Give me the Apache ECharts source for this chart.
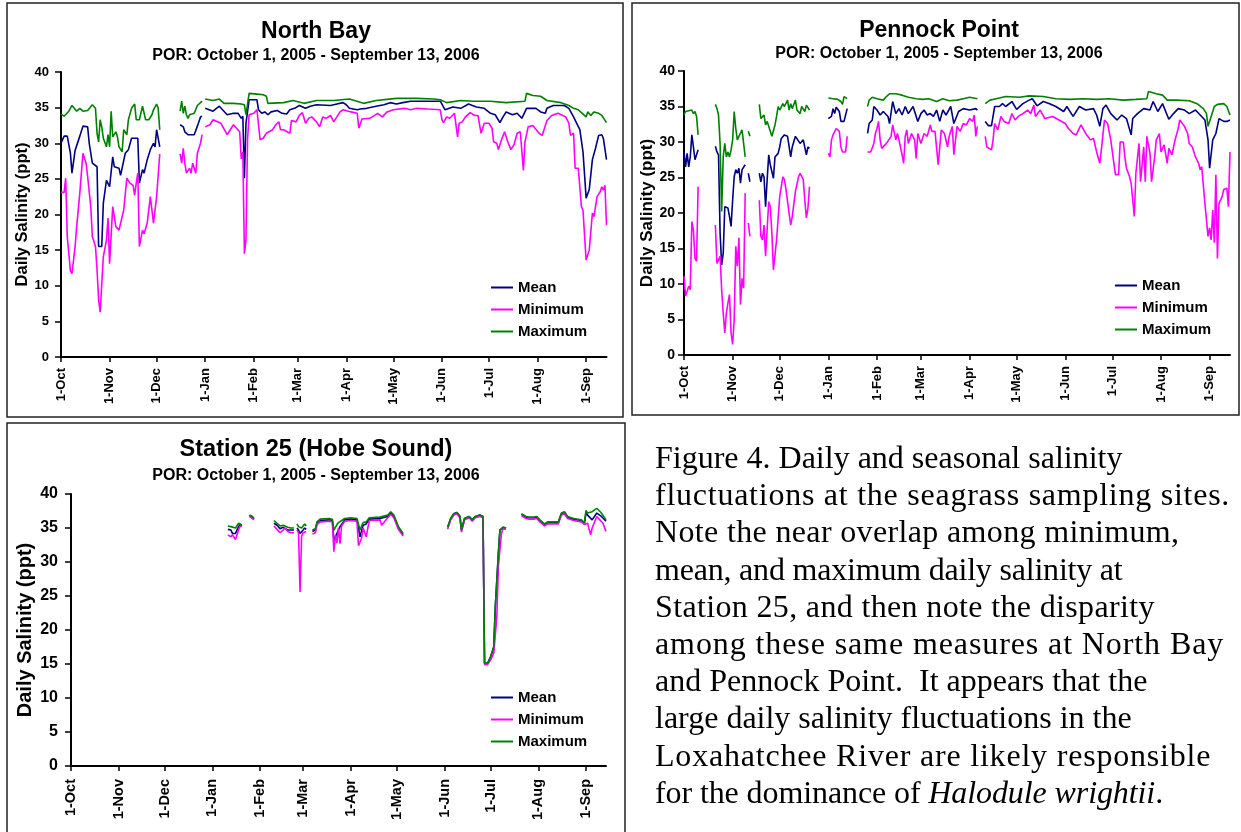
<!DOCTYPE html>
<html>
<head>
<meta charset="utf-8">
<script src="https://cdn.jsdelivr.net/npm/echarts@6/dist/echarts.min.js"></script>
<style>
html,body{margin:0;padding:0;background:#fff;}
#chart{position:absolute;left:0;top:0;width:1241px;height:832px;}
#caption{position:absolute;left:655px;top:439px;font-family:"Liberation Serif","Times New Roman",serif;font-size:32px;line-height:37.2px;color:#000;white-space:nowrap;z-index:2;}
#caption div{height:37.2px;}
</style>
</head>
<body>
<div id="chart"></div>
<div id="caption">
<div>Figure 4. Daily and seasonal salinity</div>
<div style="letter-spacing:0.75px">fluctuations at the seagrass sampling sites.</div>
<div style="letter-spacing:0.35px">Note the near overlap among minimum,</div>
<div style="letter-spacing:-0.2px">mean, and maximum daily salinity at</div>
<div style="letter-spacing:0.35px">Station 25, and then note the disparity</div>
<div style="letter-spacing:0.9px">among these same measures at North Bay</div>
<div>and Pennock Point.&nbsp; It appears that the</div>
<div>large daily salinity fluctuations in the</div>
<div style="letter-spacing:0.8px">Loxahatchee River are likely responsible</div>
<div style="letter-spacing:-0.1px">for the dominance of <i>Halodule wrightii</i>.</div>
</div>
<script>
// x values: days since 1-Oct-2005; null = gap in record
const monthTicks = [0,31,61,92,123,151,182,212,243,273,304,335];
const monthLabels = ['1-Oct','1-Nov','1-Dec','1-Jan','1-Feb','1-Mar','1-Apr','1-May','1-Jun','1-Jul','1-Aug','1-Sep'];
const seriesNames = ['Mean','Minimum','Maximum'];
const panelTitles = ['North Bay','Pennock Point','Station 25 (Hobe Sound)'];
const panelSubtitle = 'POR: October 1, 2005 - September 13, 2006';

const nbMean = [[0,30.0],[2,31.0],[4,31.0],[6,28.6],[7,25.8],[9,29.0],[10,29.2],[12,31.0],[14,32.4],[17,32.3],[18,30.0],[20,27.2],[23,26.7],[24,15.5],[26,15.5],[27,21.6],[29,24.8],[30,24.8],[31,23.9],[33,28.1],[34,26.7],[37,26.5],[38,25.5],[39,25.5],[41,28.6],[43,29.1],[45,30.7],[49,30.7],[50,24.4],[52,26.3],[53,25.8],[55,27.7],[57,29.1],[59,30.0],[60,29.5],[61,31.9],[63,29.5],null,
[76,32.6],[78,32.3],[79,31.6],[81,31.2],[85,31.2],[87,32.4],[89,33.7],[90,33.8],null,
[92,34.9],[97,34.5],[101,35.2],[106,34.0],[110,34.2],[113,34.2],[115,33.5],[116,33.8],[117,25.1],[118,32.8],[120,36.1],[125,36.1],[126,34.7],[128,34.2],[130,34.4],[132,34.0],[134,34.4],[138,34.6],[141,34.2],[144,34.1],[146,34.7],[149,34.9],[152,35.3],[156,34.9],[159,35.2],[163,35.4],[172,35.3],[176,35.5],[180,35.7],[182,35.4],[184,34.9],[189,34.7],[191,34.8],[195,34.9],[201,35.2],[206,35.4],[210,35.7],[214,35.5],[218,35.7],[223,35.9],[231,35.9],[242,35.9],[245,34.7],[250,35.1],[255,34.9],[260,35.5],[265,35.1],[270,34.9],[274,34.2],[277,34.0],[280,32.9],[282,33.7],[284,34.4],[288,34.0],[291,34.2],[294,33.5],[297,34.9],[303,34.9],[306,34.4],[309,34.2],[310,34.9],[314,35.3],[321,35.3],[324,34.9],[327,33.7],[329,32.8],[331,31.9],[333,28.8],[334,25.6],[335,22.3],[337,23.5],[339,27.7],[341,29.3],[343,31.1],[345,31.2],[346,30.7],[348,27.7]];
const nbMin = [[0,23.1],[2,23.1],[3,25.1],[4,16.9],[5,17.1],[6,12.1],[7,11.7],[9,15.5],[10,18.3],[12,23.0],[14,28.6],[16,27.2],[17,25.3],[19,21.1],[20,16.9],[22,15.5],[23,12.2],[24,8.0],[25,6.3],[27,14.1],[29,16.4],[30,19.5],[31,13.1],[32,13.1],[33,21.1],[35,18.3],[37,17.8],[39,19.7],[40,20.6],[42,25.1],[44,24.4],[46,24.1],[47,22.7],[48,24.4],[49,25.8],[50,15.5],[52,17.8],[53,17.3],[55,18.8],[57,22.5],[58,22.3],[59,18.8],[61,22.5],[63,28.5],null,
[76,28.5],[77,27.2],[78,29.3],[79,27.2],[80,25.8],[82,26.5],[83,25.8],[84,27.2],[86,25.8],[87,28.6],[89,30.0],[90,31.2],null,
[92,32.3],[95,32.6],[97,33.3],[102,32.8],[106,31.2],[110,32.6],[112,32.1],[114,31.6],[115,27.8],[116,28.8],[117,14.5],[118,16.4],[119,30.5],[120,34.0],[123,34.2],[125,34.7],[127,30.5],[129,30.7],[131,31.4],[135,31.9],[137,32.6],[139,33.0],[140,31.9],[142,31.9],[146,31.4],[147,33.2],[150,33.0],[152,33.9],[154,34.3],[156,32.8],[158,33.5],[160,33.7],[163,33.0],[165,32.3],[167,33.7],[169,33.5],[172,33.9],[174,33.0],[176,33.7],[178,34.4],[180,34.7],[185,34.4],[189,34.2],[190,32.1],[192,33.4],[197,33.5],[202,34.2],[205,33.7],[208,34.4],[212,34.7],[219,34.9],[223,34.7],[227,34.9],[234,34.8],[242,34.7],[243,33.3],[244,32.9],[246,33.7],[248,33.5],[251,34.2],[253,30.9],[254,32.8],[256,33.0],[258,33.7],[261,34.3],[264,33.9],[266,33.9],[268,31.4],[270,32.8],[273,32.8],[275,32.1],[276,30.2],[278,30.0],[279,29.1],[281,30.5],[283,31.6],[285,30.2],[287,29.1],[289,29.8],[291,31.4],[293,31.6],[295,26.2],[296,30.2],[298,32.3],[301,32.5],[305,31.4],[307,31.1],[310,33.2],[313,33.9],[317,34.2],[322,33.7],[324,32.8],[325,31.1],[327,31.4],[328,26.5],[330,26.5],[332,21.1],[333,20.6],[335,13.6],[337,15.0],[339,20.2],[340,19.7],[342,22.5],[344,23.2],[345,23.9],[346,23.4],[347,24.1],[348,18.5]];
const nbMax = [[0,34.1],[2,33.8],[5,34.5],[7,35.3],[8,35.1],[10,34.5],[12,34.9],[14,34.5],[17,34.6],[20,35.4],[22,34.9],[23,31.4],[24,30.2],[25,33.3],[26,32.3],[27,30.7],[29,29.5],[30,31.2],[31,29.5],[32,34.5],[33,30.9],[35,31.6],[36,30.9],[37,29.5],[39,28.8],[40,31.9],[42,31.2],[43,33.3],[45,34.9],[47,35.5],[48,33.3],[50,33.3],[52,35.2],[53,35.3],[54,33.3],[56,33.3],[58,34.0],[59,34.7],[61,35.5],[62,34.9],[63,31.9],null,
[76,34.5],[77,35.9],[78,34.2],[79,35.2],[80,34.0],[81,33.5],[82,34.0],[85,34.2],[87,35.3],[90,35.9],null,
[92,36.2],[97,36.0],[101,36.2],[104,35.6],[110,35.6],[115,35.5],[117,35.4],[118,34.0],[120,37.0],[125,36.9],[129,36.8],[131,36.6],[132,35.6],[142,35.7],[148,36.0],[155,35.6],[163,36.0],[174,36.0],[184,36.2],[193,35.6],[201,36.0],[214,36.3],[227,36.3],[238,36.2],[242,36.1],[246,35.7],[255,36.0],[263,35.9],[274,35.9],[284,35.7],[296,35.9],[297,37.0],[301,36.7],[306,36.6],[310,36.0],[319,35.7],[324,35.3],[327,34.9],[330,34.7],[332,34.3],[335,33.7],[336,34.4],[338,33.9],[340,34.4],[343,34.2],[345,33.9],[348,32.9]];

const ppMean = [[0,28.6],[1,26.5],[2,28.4],[3,26.5],[4,27.9],[5,31.0],[6,29.3],[7,27.5],[8,27.7],[9,28.9],null,
[20,29.4],[21,28.6],[22,28.2],[23,17.2],[24,12.7],[25,14.3],[26,20.9],[28,20.7],[29,19.5],[30,18.1],[31,21.8],[32,25.1],[33,26.1],[34,25.6],[35,26.3],[36,24.2],[37,26.1],[39,26.8],null,
[41,25.6],[42,24.4],null,
[48,25.6],[49,24.4],[50,25.6],[51,25.1],[52,20.9],[53,24.7],[54,28.2],[55,26.8],[57,24.9],[58,27.9],[60,28.4],[61,29.3],[62,30.5],[64,31.0],[66,30.8],[68,27.9],[69,29.3],[71,30.8],[72,30.8],[74,29.8],[76,30.3],[78,28.2],[79,29.3],[80,29.1],null,
[92,33.3],[94,33.6],[95,34.7],[96,34.0],[97,34.9],[99,34.3],[100,32.9],[102,32.9],[104,34.7],null,
[117,31.2],[118,32.6],[120,33.1],[121,35.0],[123,34.5],[125,33.8],[127,34.3],[130,33.6],[131,32.6],[133,35.7],[135,34.0],[137,34.7],[139,33.8],[141,35.0],[143,34.0],[146,35.0],[148,33.6],[149,32.9],[151,34.0],[153,34.5],[155,33.8],[157,34.0],[159,33.6],[161,34.5],[163,32.9],[165,34.5],[167,33.8],[170,35.0],[172,32.6],[175,34.3],[178,34.7],[182,34.5],[186,34.7],[187,34.5],null,
[192,32.9],[194,32.3],[196,32.3],[198,35.0],[201,35.0],[203,35.4],[205,35.0],[209,35.7],[212,34.6],[216,35.4],[220,35.9],[222,36.1],[225,35.1],[229,35.7],[233,35.4],[237,35.0],[242,34.3],[244,35.0],[248,33.6],[252,35.0],[256,34.5],[261,34.7],[263,33.8],[265,32.2],[267,34.7],[269,35.2],[272,34.0],[276,33.1],[279,33.8],[282,33.3],[285,31.0],[286,33.3],[289,34.0],[293,34.7],[297,34.5],[299,35.7],[302,34.3],[305,35.4],[309,33.2],[312,34.0],[315,34.7],[319,34.5],[322,34.0],[326,34.5],[329,33.8],[332,33.1],[334,30.3],[335,26.3],[337,30.3],[339,31.2],[341,33.3],[344,32.9],[346,32.9],[348,33.1]];
const ppMin = [[0,11.1],[1,8.3],[2,8.3],[3,9.7],[4,9.2],[5,18.8],[6,17.6],[7,13.6],[8,13.2],[9,23.7],null,
[20,18.3],[21,12.9],[22,13.4],[23,13.9],[24,9.2],[25,5.9],[26,3.1],[27,5.9],[28,7.3],[29,8.5],[30,3.1],[31,1.5],[32,5.0],[33,15.3],[34,12.5],[35,16.5],[36,7.1],[37,10.8],[38,9.4],[39,22.8],null,
[41,18.6],[42,16.7],null,
[48,21.8],[49,16.7],[50,16.2],[51,18.3],[52,13.9],[53,13.9],[54,21.6],[55,20.9],[56,17.2],[57,12.0],[58,12.2],[59,16.2],[61,22.3],[63,25.1],[64,24.7],[65,23.3],[66,23.5],[68,18.3],[69,19.5],[70,19.3],[71,23.0],[73,25.1],[74,25.6],[76,24.7],[77,21.8],[78,19.3],[79,20.7],[80,23.7],null,
[92,28.4],[93,27.9],[94,30.3],[95,31.0],[97,31.9],[99,31.5],[100,29.3],[101,28.6],[103,28.6],[104,30.8],null,
[117,28.6],[119,28.6],[121,29.8],[122,31.2],[123,31.9],[124,32.9],[125,30.3],[126,29.1],[127,29.3],[129,29.8],[130,30.0],[132,30.8],[133,32.4],[135,30.3],[136,31.2],[137,30.3],[139,28.2],[140,27.0],[141,30.8],[142,31.7],[143,29.8],[145,31.2],[147,30.3],[148,27.7],[149,31.2],[151,29.8],[153,31.2],[155,30.8],[157,32.4],[158,31.5],[160,31.5],[161,31.7],[162,26.8],[164,31.7],[166,31.2],[168,29.3],[169,30.8],[171,32.2],[172,28.2],[174,32.2],[176,31.5],[178,32.6],[180,32.4],[182,33.3],[184,32.9],[185,33.8],[186,30.8],[187,32.2],null,
[192,30.8],[193,29.3],[196,28.9],[197,30.3],[198,32.6],[200,31.7],[202,33.6],[204,32.9],[207,32.6],[209,34.0],[211,33.1],[213,33.6],[216,34.0],[219,34.5],[221,34.0],[223,35.2],[224,33.6],[227,34.5],[230,33.3],[235,33.6],[239,33.1],[243,32.6],[245,31.9],[248,31.2],[250,31.0],[253,32.4],[256,31.2],[259,30.3],[261,30.5],[263,28.6],[265,27.0],[266,28.9],[268,33.1],[270,32.6],[272,30.3],[274,27.0],[275,25.4],[277,25.4],[278,30.0],[280,30.0],[281,27.9],[282,26.3],[284,25.1],[285,24.2],[287,19.5],[288,25.6],[290,29.8],[291,24.4],[293,29.3],[294,24.4],[295,30.8],[297,28.4],[298,24.4],[300,27.9],[301,30.3],[303,31.2],[304,28.6],[306,29.6],[308,27.0],[309,29.1],[311,28.2],[313,30.3],[315,31.9],[316,33.1],[319,32.2],[321,31.2],[322,29.8],[324,29.3],[326,27.9],[328,27.0],[329,26.1],[330,26.5],[331,26.3],[332,21.4],[334,16.7],[335,17.9],[336,16.2],[337,20.4],[338,15.8],[339,25.4],[340,13.6],[341,21.4],[343,22.3],[344,23.3],[346,23.5],[347,20.9],[348,28.6]];
const ppMax = [[0,33.8],[1,34.3],[3,34.4],[5,34.5],[6,34.0],[7,34.3],[8,33.6],[9,31.0],null,
[20,35.3],[21,34.7],[22,33.8],[23,29.8],[24,20.2],[25,27.9],[26,29.8],[27,27.9],[28,28.6],[29,27.9],[30,28.9],[31,30.3],[32,34.3],[33,31.9],[34,30.3],[35,30.8],[37,31.7],[39,27.9],null,
[41,31.5],[42,30.8],null,
[48,35.3],[49,33.3],[50,33.1],[51,33.8],[52,32.4],[53,32.9],[54,32.2],[56,30.8],[58,32.4],[59,33.6],[60,35.0],[61,34.5],[63,35.4],[64,35.0],[66,35.9],[67,34.5],[68,35.4],[69,34.7],[71,35.9],[72,34.5],[74,34.0],[75,35.0],[77,34.3],[78,35.2],[79,35.1],[80,34.5],null,
[92,36.2],[95,36.1],[98,36.0],[100,35.7],[101,35.3],[102,36.4],[104,36.1],null,
[117,35.0],[118,35.9],[120,36.3],[123,36.1],[127,35.9],[129,36.4],[131,36.8],[135,36.8],[139,36.6],[143,36.3],[148,36.1],[152,36.0],[156,36.1],[161,35.7],[165,36.1],[169,35.8],[174,35.9],[178,36.1],[182,36.3],[187,36.1],null,
[192,35.4],[195,35.9],[199,36.1],[205,36.4],[214,36.3],[220,36.5],[229,36.4],[237,36.1],[246,36.0],[254,36.1],[263,36.0],[271,36.1],[280,35.9],[288,36.0],[295,36.1],[296,37.1],[301,36.8],[305,36.6],[308,35.9],[314,35.9],[322,35.8],[327,35.4],[331,34.7],[333,34.0],[334,32.2],[336,33.6],[338,35.0],[340,35.3],[344,35.4],[346,35.0],[348,33.8]];

const s25Mean = [[102,34.8],[104,34.7],[105,34.2],[107,34.2],[109,35.2],[110,35.6],[111,35.3],null,
[116,36.8],[118,36.6],[119,36.3],null,
[132,35.7],[134,35.4],[136,34.9],[138,35.1],[139,35.2],[141,34.7],[143,34.7],[145,34.7],null,
[147,35.0],[148,34.7],[149,34.2],[150,34.0],[151,34.7],[152,35.0],[153,34.8],null,
[157,34.5],[159,34.7],[160,35.7],[162,36.1],[168,36.2],[170,36.1],[171,33.2],[173,34.2],[174,34.0],[175,35.2],[178,36.2],[182,36.3],[186,36.2],[188,33.7],[190,35.4],[192,35.6],[194,36.3],[201,36.4],[206,36.7],[208,37.2],[210,36.7],[213,35.0],[216,34.0],null,
[245,35.1],[247,36.4],[249,37.1],[251,37.3],[253,36.7],[254,34.7],[255,34.7],[256,36.4],[259,36.7],[261,36.2],[263,36.7],[266,36.9],[268,36.7],[269,15.1],[271,15.1],[273,16.1],[275,17.5],[276,23.4],[278,31.3],[279,34.7],[281,35.1],[283,35.0],null,
[293,37.0],[296,36.6],[298,36.5],[301,36.5],[303,36.6],[305,36.1],[308,35.5],[310,35.8],[314,35.8],[317,35.8],[319,37.1],[321,37.3],[323,36.6],[327,36.3],[332,36.1],[334,35.7],[335,37.3],[336,36.9],[339,36.2],[342,37.2],[345,36.7],[348,36.0]];
const s25Min = [[102,34.0],[104,33.7],[105,34.0],[107,33.3],[109,34.7],[110,35.3],[111,35.2],null,
[116,36.7],[118,36.4],[119,36.2],null,
[132,35.3],[134,34.8],[136,34.3],[138,34.7],[139,35.0],[141,34.5],[143,34.3],[145,34.3],null,
[147,34.7],[148,34.3],[149,25.6],[150,33.8],[151,34.3],[153,34.5],null,
[157,34.1],[159,34.3],[160,35.5],[162,35.9],[168,36.0],[170,35.9],[171,31.5],[172,34.0],[173,32.8],[174,35.0],[175,32.7],[176,35.3],[178,36.0],[182,36.1],[186,36.0],[187,32.4],[189,33.5],[190,35.0],[192,33.7],[194,36.1],[201,36.2],[202,35.4],[206,36.5],[208,37.0],[210,36.5],[213,34.8],[216,33.8],null,
[245,34.8],[247,36.2],[249,36.9],[251,37.1],[253,36.5],[254,34.4],[255,34.4],[256,36.2],[259,36.5],[261,36.0],[263,36.5],[266,36.7],[268,36.5],[269,14.9],[271,14.9],[273,15.6],[275,16.6],[277,22.0],[278,29.3],[279,31.8],[280,34.2],[281,34.9],[283,34.8],null,
[293,36.8],[296,36.4],[298,36.3],[301,36.3],[303,36.4],[305,35.9],[308,35.3],[310,35.6],[314,35.6],[317,35.6],[319,36.9],[321,37.1],[323,36.4],[327,36.1],[332,35.9],[334,35.5],[335,35.7],[336,35.7],[338,34.0],[339,35.0],[342,36.7],[344,36.2],[346,35.7],[348,34.5]];
const s25Max = [[102,35.3],[104,35.2],[105,35.0],[107,35.0],[109,35.7],[110,35.9],[111,35.4],null,
[116,36.9],[118,36.7],[119,36.4],null,
[132,36.1],[134,35.7],[136,35.3],[138,35.4],[139,35.6],[141,35.1],[143,35.0],[145,35.0],null,
[147,35.6],[148,35.2],[149,35.0],[150,35.0],[151,35.2],[152,35.6],[153,35.3],null,
[157,34.7],[159,34.9],[160,35.9],[162,36.3],[168,36.4],[170,36.3],[171,34.7],[173,35.5],[174,35.8],[175,35.7],[178,36.4],[182,36.5],[186,36.4],[188,34.7],[190,35.8],[192,35.9],[194,36.5],[201,36.6],[206,36.9],[208,37.4],[210,36.9],[213,35.2],[216,34.2],null,
[245,35.1],[247,36.4],[249,37.1],[251,37.3],[253,36.7],[254,34.7],[255,34.7],[256,36.4],[259,36.7],[261,36.2],[263,36.7],[266,36.9],[268,36.7],[269,15.1],[271,15.1],[273,16.1],[275,17.5],[276,23.4],[278,31.3],[279,34.7],[281,35.1],[283,35.0],null,
[293,37.1],[296,36.7],[298,36.6],[301,36.6],[303,36.7],[305,36.2],[308,35.6],[310,35.9],[314,35.9],[317,35.9],[319,37.2],[321,37.4],[323,36.7],[327,36.4],[332,36.2],[334,35.8],[335,37.6],[336,37.2],[339,37.4],[342,37.9],[345,37.2],[348,36.2]];

const FONT = '"Liberation Sans", Arial, sans-serif';
const COLORS = ['#000080', '#FF00FF', '#008000'];

function withGaps(arr) {
  const out = [];
  let last = 0;
  arr.forEach(p => {
    if (p === null) out.push([last + 0.5, '-']);
    else { out.push(p); last = p[0]; }
  });
  return out;
}

const panels = [
  { grid: {left: 61, top: 72, width: 545.5, height: 285}, yFont: 13, xFont: 13, nameFont: 16.5, nameGap: 30, yMargin: 12, xMargin: 11,
    titleX: 316, titleTop: 20, subTop: 48, titleFont: 23, legend: {left: 491, top: 280}, box: [7, 3, 616, 414], data: [nbMean, nbMin, nbMax] },
  { grid: {left: 684, top: 71, width: 546, height: 284}, yFont: 14, xFont: 13, nameFont: 17, nameGap: 28, yMargin: 9, xMargin: 11,
    titleX: 939, titleTop: 19, subTop: 46, titleFont: 23, legend: {left: 1115, top: 278}, box: [632, 3, 607, 412], data: [ppMean, ppMin, ppMax] },
  { grid: {left: 71, top: 494, width: 535, height: 272}, yFont: 16, xFont: 14.5, nameFont: 20, nameGap: 36, yMargin: 13, xMargin: 13,
    titleX: 316, titleTop: 438, subTop: 468, titleFont: 23.5, legend: {left: 491, top: 690}, box: [7, 423, 618, 420], data: [s25Mean, s25Min, s25Max] }
];

const option = {
  animation: false,
  backgroundColor: '#fff',
  title: [], legend: [], grid: [], xAxis: [], yAxis: [], series: [], graphic: []
};

panels.forEach((p, i) => {
  option.grid.push(p.grid);
  option.title.push({ text: panelTitles[i], left: p.titleX, top: p.titleTop, textAlign: 'center', padding: 0,
    textStyle: { fontFamily: FONT, fontSize: p.titleFont, fontWeight: 'bold', color: '#000' } });
  option.title.push({ text: panelSubtitle, left: p.titleX, top: p.subTop, textAlign: 'center', padding: 0,
    textStyle: { fontFamily: FONT, fontSize: 16, fontWeight: 'bold', color: '#000' } });
  option.legend.push({ data: seriesNames, orient: 'vertical', left: p.legend.left, top: p.legend.top, padding: 0,
    itemWidth: 22, itemHeight: 2, itemGap: 7, icon: 'rect',
    textStyle: { fontFamily: FONT, fontSize: 15, fontWeight: 'bold', color: '#000', padding: [0, 0, 0, 0] } });
  option.xAxis.push({ type: 'value', gridIndex: i, min: 0, max: 348,
    splitLine: { show: false },
    axisLine: { show: true, lineStyle: { color: '#000', width: 2 } },
    axisTick: { show: true, customValues: monthTicks, length: 5, lineStyle: { color: '#000', width: 1.5 } },
    axisLabel: { customValues: monthTicks, rotate: 90, margin: p.xMargin, color: '#000', fontFamily: FONT, fontSize: p.xFont, fontWeight: 'bold',
      formatter: v => monthLabels[monthTicks.indexOf(v)] || '' } });
  option.yAxis.push({ type: 'value', gridIndex: i, min: 0, max: 40, interval: 5,
    name: 'Daily Salinity (ppt)', nameLocation: 'middle', nameGap: p.nameGap, nameRotate: 90,
    nameTextStyle: { fontFamily: FONT, fontSize: p.nameFont, fontWeight: 'bold', color: '#000' },
    splitLine: { show: false },
    axisLine: { show: true, lineStyle: { color: '#000', width: 2 } },
    axisTick: { show: true, length: 6, lineStyle: { color: '#000', width: 1.5 } },
    axisLabel: { margin: p.yMargin, color: '#000', fontFamily: FONT, fontSize: p.yFont, fontWeight: 'bold' } });
  p.data.forEach((d, k) => {
    option.series.push({ type: 'line', name: seriesNames[k], xAxisIndex: i, yAxisIndex: i,
      data: withGaps(d), showSymbol: false, symbol: 'none', connectNulls: false,
      lineStyle: { color: COLORS[k], width: 1.6 }, itemStyle: { color: COLORS[k] } });
  });
  option.graphic.push({ type: 'rect', shape: { x: p.box[0], y: p.box[1], width: p.box[2], height: p.box[3] },
    style: { fill: 'none', stroke: '#222', lineWidth: 1.5 }, silent: true });
});

const chart = echarts.init(document.getElementById('chart'), null, { renderer: 'canvas' });
chart.setOption(option);
</script>
</body>
</html>
